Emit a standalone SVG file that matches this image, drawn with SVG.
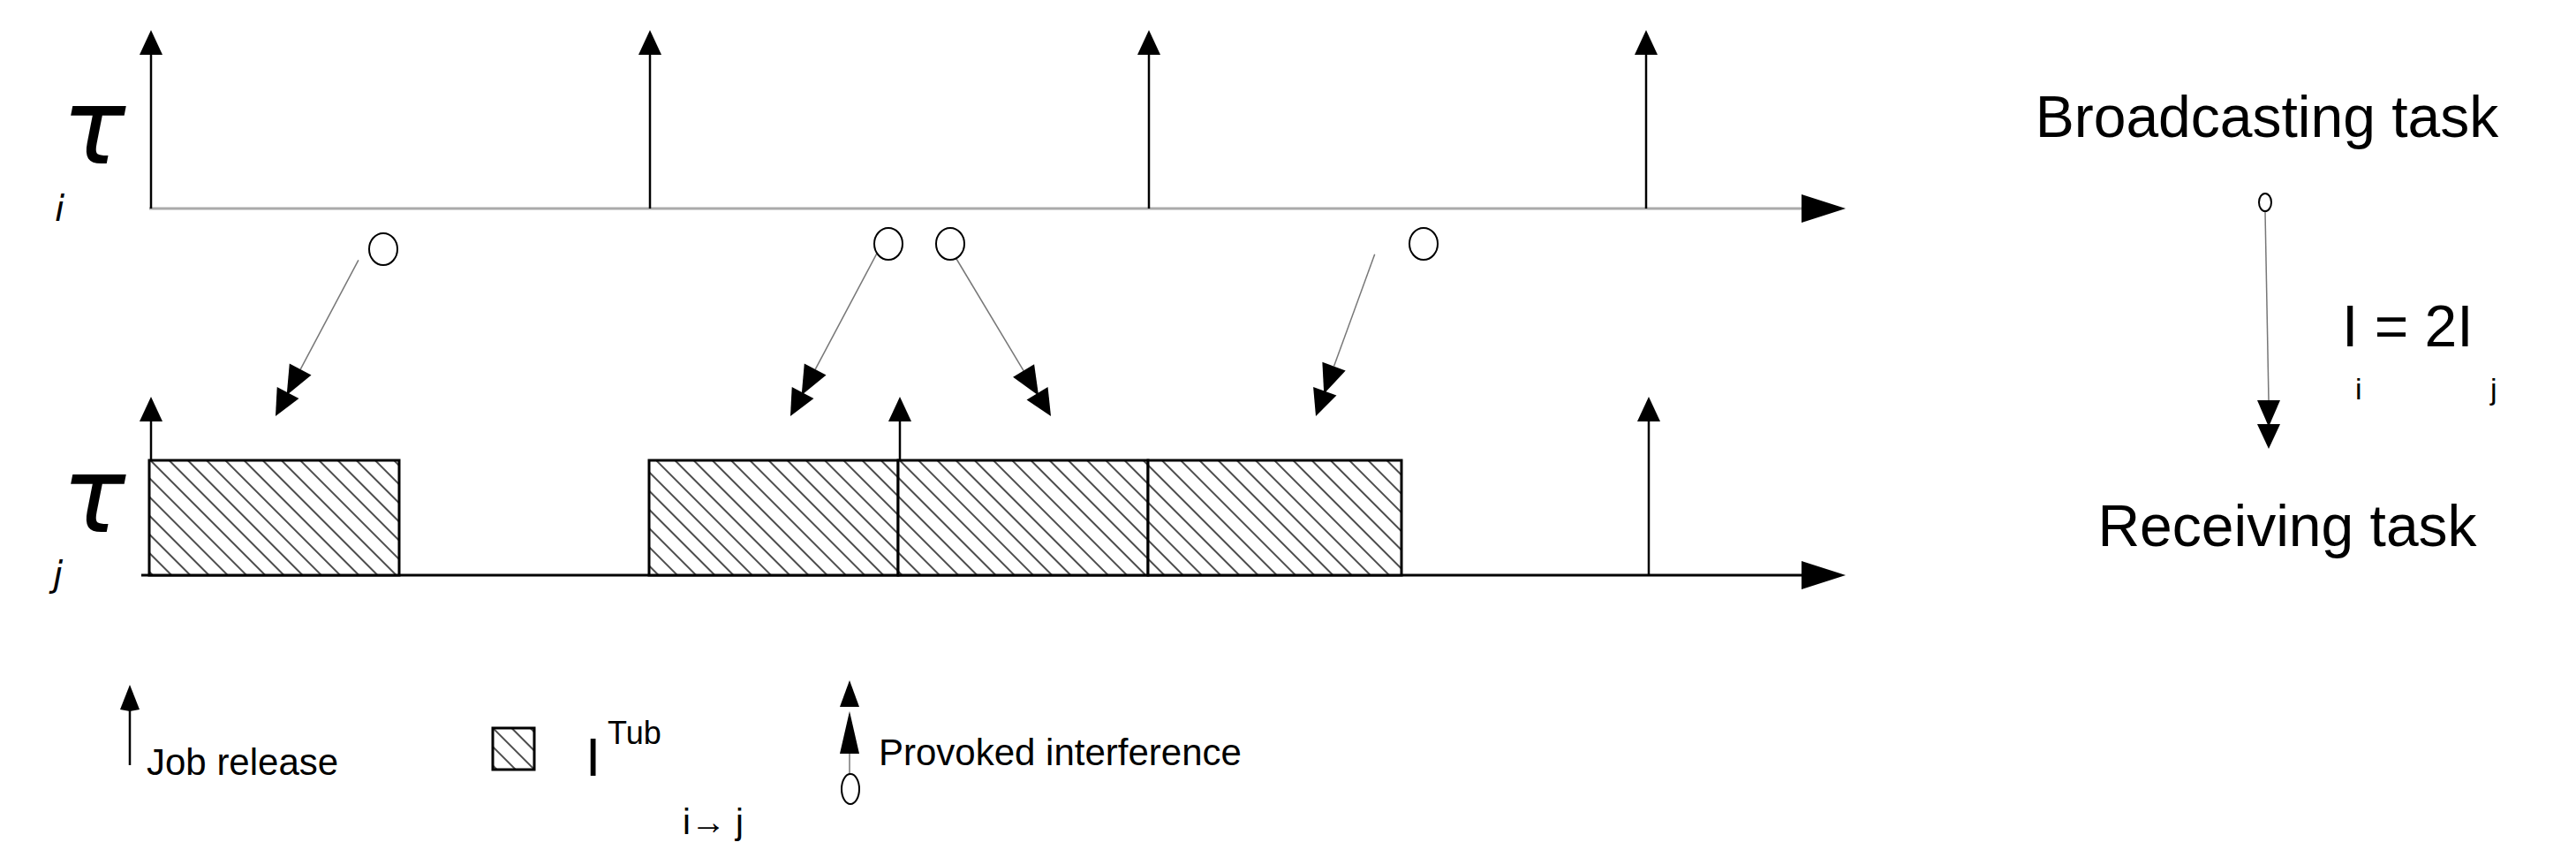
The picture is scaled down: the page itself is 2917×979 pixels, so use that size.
<svg xmlns="http://www.w3.org/2000/svg" width="2917" height="979" viewBox="0 0 2917 979">
<style>
.t{font-family:"Liberation Sans Narrow","Liberation Sans",sans-serif;fill:#000}
.g{font-family:"DejaVu Sans",sans-serif;font-style:italic;fill:#000}
.ax{stroke:#000;stroke-width:3;fill:none}
.rel{stroke:#000;stroke-width:2.5}
.cn{stroke:#777;stroke-width:1.5;fill:none}
.c{fill:#fff;stroke:#000;stroke-width:2}
.box{fill:url(#hatch);stroke:#000;stroke-width:3}
</style>
<defs>
<pattern id="hatch" patternUnits="userSpaceOnUse" width="15" height="15" patternTransform="rotate(-45)">
<rect width="15" height="15" fill="#fff"/>
<line x1="7" y1="-1" x2="7" y2="16" stroke="#000" stroke-width="1.4"/>
</pattern>
</defs>
<g id="axes">
<line x1="169" y1="236" x2="2050" y2="236" stroke="#aaa" stroke-width="3"/>
<polygon points="2040,220 2090,236 2040,252"/>
<line x1="160" y1="651" x2="2050" y2="651" class="ax"/>
<polygon points="2040,635 2090,651 2040,667"/>
</g>
<g id="labels">
<text class="g" x="70" y="185" font-size="120">τ</text>
<text class="g" x="62" y="250" font-size="40">i</text>
<text class="g" x="70" y="602" font-size="120">τ</text>
<text class="g" x="60" y="664" font-size="40">j</text>
</g>
<g id="tasks">
<rect class="box" x="169" y="521" width="283" height="130"/>
<rect class="box" x="735" y="521" width="282" height="130"/>
<rect class="box" x="1017" y="521" width="283" height="130"/>
<rect class="box" x="1300" y="521" width="287" height="130"/>
</g>
<g id="releases">
<g id="ri"><line class="rel" x1="171" y1="236" x2="171" y2="60"/><polygon points="158,62 171,34 184,62"/>
<line class="rel" x1="736" y1="236" x2="736" y2="60"/><polygon points="723,62 736,34 749,62"/>
<line class="rel" x1="1301" y1="236" x2="1301" y2="60"/><polygon points="1288,62 1301,34 1314,62"/>
<line class="rel" x1="1864" y1="236" x2="1864" y2="60"/><polygon points="1851,62 1864,34 1877,62"/></g>
<g id="rj"><line class="rel" x1="171" y1="521" x2="171" y2="475"/><polygon points="158,477 171,449 184,477"/>
<line class="rel" x1="1019" y1="521" x2="1019" y2="475"/><polygon points="1006,477 1019,449 1032,477"/>
<line class="rel" x1="1867" y1="651" x2="1867" y2="475"/><polygon points="1854,477 1867,449 1880,477"/></g>
</g>
<g id="connectors">
<g id="c1" transform="translate(312,471) rotate(28)"><line class="cn" x1="0" y1="-60" x2="0" y2="-200"/><polygon points="-14,-30 0,0 14,-30"/><polygon points="-14,-60 0,-27 14,-60"/></g>
<g id="c2" transform="translate(895,471) rotate(28)"><line class="cn" x1="0" y1="-60" x2="0" y2="-210"/><polygon points="-14,-30 0,0 14,-30"/><polygon points="-14,-60 0,-27 14,-60"/></g>
<g id="c3" transform="translate(1190,471) rotate(-31)"><line class="cn" x1="0" y1="-60" x2="0" y2="-210"/><polygon points="-14,-30 0,0 14,-30"/><polygon points="-14,-60 0,-27 14,-60"/></g>
<g id="c4" transform="translate(1490,471) rotate(20)"><line class="cn" x1="0" y1="-60" x2="0" y2="-195"/><polygon points="-14,-30 0,0 14,-30"/><polygon points="-14,-60 0,-27 14,-60"/></g>
<g id="c5" transform="translate(2569,508)"><line class="cn" x1="-4" y1="-268" x2="0" y2="-55"/><polygon points="-13,-28 0,0 13,-28"/><polygon points="-13,-55 0,-25 13,-55"/></g>
</g>
<g id="circles">
<ellipse class="c" cx="434" cy="282" rx="16" ry="18"/>
<ellipse class="c" cx="1006" cy="276" rx="16" ry="18"/>
<ellipse class="c" cx="1076" cy="276" rx="16" ry="18"/>
<ellipse class="c" cx="1612" cy="276" rx="16" ry="18"/>
<ellipse class="c" cx="2565" cy="229" rx="7" ry="10"/>
</g>
<g id="right">
<text class="t" x="2567" y="155" font-size="66" text-anchor="middle">Broadcasting task</text>
<text class="t" x="2590" y="618" font-size="66" text-anchor="middle">Receiving task</text>
<text class="t" x="2652" y="392" font-size="66">I = 2I</text>
<text class="t" x="2667" y="452" font-size="34">i</text>
<text class="t" x="2820" y="452" font-size="34">j</text>
</g>
<g id="legend">
<line class="rel" x1="147" y1="866" x2="147" y2="800"/><polygon points="136,803 147,805 158,803 147,775"/>
<text class="t" x="166" y="877" font-size="42">Job release</text>
<rect class="box" x="558" y="824" width="47" height="47" stroke-width="2.5"/>
<text class="t" x="663" y="878" font-size="62">I</text>
<text class="t" x="688" y="842" font-size="36">Tub</text>
<text class="t" x="773" y="944" font-size="40">i→ j</text>
<line class="cn" x1="962" y1="850" x2="962" y2="876" stroke="#000"/>
<polygon points="951,800 962,770 973,800"/><polygon points="951,853 962,805 973,853"/>
<ellipse class="c" cx="963" cy="893" rx="10" ry="17"/>
<text class="t" x="995" y="866" font-size="42">Provoked interference</text>
</g>
</svg>
